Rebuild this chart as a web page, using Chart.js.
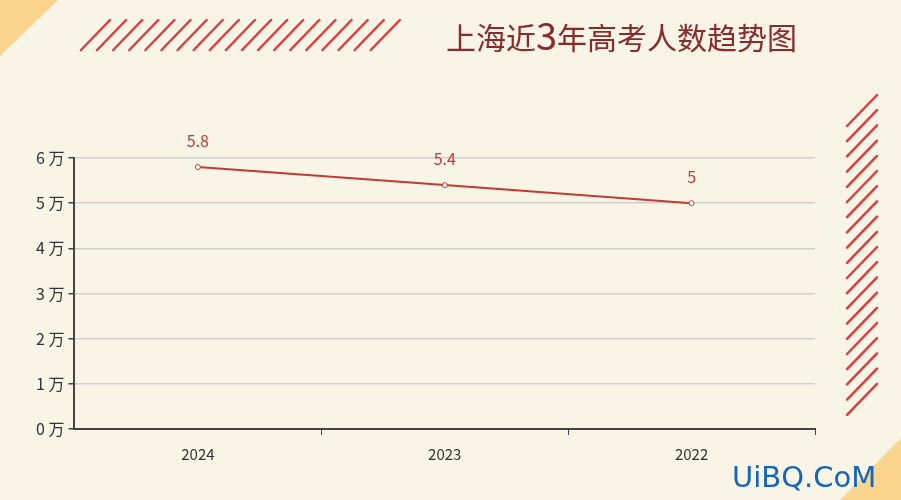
<!DOCTYPE html>
<html>
<head>
<meta charset="utf-8">
<script src="https://cdn.jsdelivr.net/npm/chart.js@4"></script>
<style>
  body { margin: 0; background: #f8f4e6; }
  canvas { display: block; }
</style>
</head>
<body>
<canvas id="chart" width="901" height="500"></canvas>
<script>
const years = ['2024', '2023', '2022'];
const examinees = [5.8, 5.4, 5];   // 万人
const yTicks = [0, 1, 2, 3, 4, 5, 6];

const FONT = '"Noto Sans CJK SC", "Noto Sans", sans-serif';

// background, corner triangles, stripes, title, watermark
const decor = {
  id: 'decor',
  beforeDraw(chart) {
    const ctx = chart.ctx;
    ctx.save();
    ctx.fillStyle = '#f8f4e6';
    ctx.fillRect(0, 0, chart.width, chart.height);
    ctx.fillStyle = '#fad58e';
    ctx.beginPath(); ctx.moveTo(0, 0); ctx.lineTo(58, 0); ctx.lineTo(0, 56); ctx.fill();
    ctx.beginPath(); ctx.moveTo(901, 438); ctx.lineTo(901, 500); ctx.lineTo(840, 500); ctx.fill();

    ctx.strokeStyle = '#de3e3e';
    ctx.lineWidth = 2.5;
    ctx.lineCap = 'round';
    // top stripes
    for (let i = 0; i < 19; i++) {
      const x = 81 + i * 16.1;
      ctx.beginPath(); ctx.moveTo(x, 50); ctx.lineTo(x + 29, 20); ctx.stroke();
    }
    // right stripes
    for (let i = 0; i < 20; i++) {
      const y = 126 + i * 15.2;
      ctx.beginPath(); ctx.moveTo(847, y); ctx.lineTo(877, y - 31); ctx.stroke();
    }

    // title
    ctx.fillStyle = '#8b2a2a';
    ctx.textBaseline = 'alphabetic';
    ctx.textAlign = 'left';
    let x = 446;
    const y = 49;
    ctx.font = '30px ' + FONT;
    ctx.fillText('上海近', x, y); x += ctx.measureText('上海近').width;
    ctx.font = '38px ' + FONT;
    ctx.fillText('3', x, y + 1); x += ctx.measureText('3').width;
    ctx.font = '30px ' + FONT;
    ctx.fillText('年高考人数趋势图', x, y);

    // watermark
    ctx.fillStyle = '#1565c0';
    ctx.font = '29px "DejaVu Sans", sans-serif';
    ctx.fillText('UiBQ.CoM', 732, 487);
    ctx.restore();
  },
  afterDatasetsDraw(chart) {
    const ctx = chart.ctx;
    const meta = chart.getDatasetMeta(0);
    ctx.save();
    ctx.fillStyle = '#c23a32';
    ctx.font = '16px ' + FONT;
    ctx.textAlign = 'center';
    ctx.textBaseline = 'bottom';
    meta.data.forEach((pt, i) => {
      ctx.fillText(String(examinees[i]), pt.x, pt.y - 18);
    });
    ctx.restore();
  }
};

new Chart(document.getElementById('chart'), {
  type: 'line',
  data: {
    labels: years,
    datasets: [{
      data: examinees,
      borderColor: '#c23a32',
      borderWidth: 2,
      pointRadius: 2.5,
      pointBorderWidth: 1,
      pointBackgroundColor: '#ffffff',
      pointBorderColor: '#c23a32',
      tension: 0
    }]
  },
  options: {
    responsive: false,
    animation: false,
    layout: { padding: { left: 32, right: 86, top: 158, bottom: 27 } },
    plugins: { legend: { display: false }, tooltip: { enabled: false } },
    scales: {
      x: {
        offset: true,
        grid: {
          offset: true, drawOnChartArea: false, drawTicks: true, tickLength: 6, lineWidth: 1,
          color: ctx => (ctx.index === 0 || ctx.index === years.length) ? 'rgba(0,0,0,0)' : '#444'
        },
        border: { color: '#444', width: 2 },
        ticks: { color: '#333', font: { size: 15, family: FONT }, padding: 10 }
      },
      y: {
        min: 0, max: 6,
        afterBuildTicks(axis) { axis.ticks = yTicks.map(v => ({ value: v })); },
        grid: { color: '#cfcfcf', lineWidth: 1.5, tickLength: 6, tickColor: '#444' },
        border: { color: '#444', width: 2 },
        ticks: { color: '#333', font: { size: 16, family: FONT }, padding: 4, callback: v => v + ' 万' }
      }
    }
  },
  plugins: [decor]
});
</script>
</body>
</html>
